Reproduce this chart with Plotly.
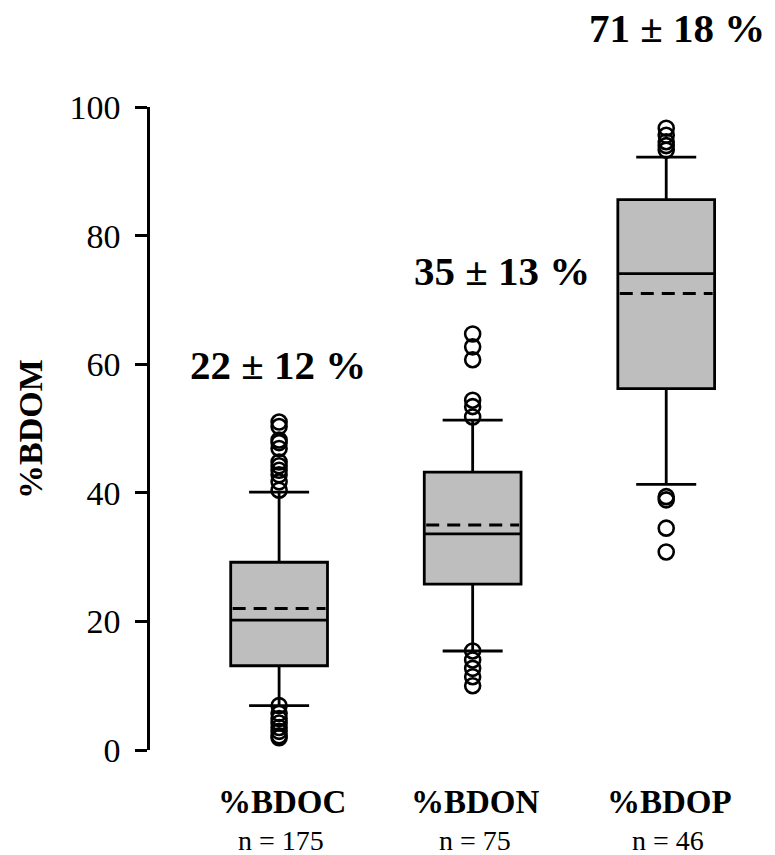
import plotly.graph_objects as go

# Box statistics for the three bioavailable fractions
categories = ["%BDOC", "%BDON", "%BDOP"]
n_obs = [175, 75, 46]
q1 = [13.1, 25.8, 56.2]
medians = [20.2, 33.6, 74.1]
q3 = [29.2, 43.2, 85.6]
lower_whisker = [6.9, 15.4, 41.3]
upper_whisker = [40.1, 51.3, 92.2]
means = [22, 35, 71]
sds = [12, 13, 18]

# Outlying observations beyond the whiskers
outliers_bdoc = [40.4, 41.7, 42.8, 43.5, 44.2, 44.8, 46.9, 47.8, 48.2, 50.3, 51.0,
                 6.9, 5.7, 4.9, 4.2, 3.5, 2.9, 2.2, 1.9]
outliers_bdon = [51.8, 53.4, 54.4, 60.7, 62.7, 64.7, 15.4, 14.0, 12.7, 11.4, 10.0]
outliers_bdop = [93.3, 94.0, 94.6, 95.6, 96.7, 39.4, 38.9, 34.5, 30.8]
outliers = [outliers_bdoc, outliers_bdon, outliers_bdop]

y_ticks = [0, 20, 40, 60, 80, 100]

positions = [1, 2, 3]
BOX_WIDTH = 0.5
FONT = "Liberation Serif"

fig = go.Figure()

fig.add_trace(go.Box(
    x=positions,
    q1=q1, median=medians, q3=q3,
    lowerfence=lower_whisker, upperfence=upper_whisker,
    boxpoints=False,
    width=BOX_WIDTH,
    whiskerwidth=0.62,
    fillcolor="#BEBEBE",
    line=dict(color="black", width=2.8),
    showlegend=False,
    hoverinfo="skip",
))

# dashed mean line across each box
for pos, m in zip(positions, means):
    fig.add_trace(go.Scatter(
        x=[pos - BOX_WIDTH / 2 + 0.01, pos + BOX_WIDTH / 2 - 0.01], y=[m, m],
        mode="lines",
        line=dict(color="black", width=3, dash="13px,8px"),
        showlegend=False, hoverinfo="skip",
    ))

for pos, pts in zip(positions, outliers):
    fig.add_trace(go.Scatter(
        x=[pos] * len(pts), y=pts,
        mode="markers",
        marker=dict(symbol="circle-open", size=15, color="black",
                    line=dict(width=2.6, color="black")),
        cliponaxis=False,
        showlegend=False,
        hoverinfo="skip",
    ))

# mean ± sd labels above each box (paper y, relative to the 0–100 axis)
label_pos = [(0.995, 0.599), (2.152, 0.745), (3.055, 1.123)]
for (lx, ly), m, s in zip(label_pos, means, sds):
    fig.add_annotation(x=lx, y=ly, xref="x", yref="paper",
                       text=f"<b>{m} ± {s} %</b>", showarrow=False,
                       font=dict(family=FONT, size=41, color="black"),
                       xanchor="center", yanchor="middle")

# category names and sample sizes under the boxes
for pos, cat, n in zip(positions, categories, n_obs):
    fig.add_annotation(x=pos + 0.015, y=-0.081, xref="x", yref="paper",
                       text=f"<b>{cat}</b>", showarrow=False,
                       font=dict(family=FONT, size=33, color="black"),
                       xanchor="center", yanchor="middle")
    fig.add_annotation(x=pos + 0.01, y=-0.140, xref="x", yref="paper",
                       text=f"n = {n}", showarrow=False,
                       font=dict(family=FONT, size=28, color="black"),
                       xanchor="center", yanchor="middle")

fig.add_annotation(x=-0.196, y=0.499, xref="paper", yref="paper",
                   text="<b>%BDOM</b>", showarrow=False, textangle=-90,
                   font=dict(family=FONT, size=34, color="black"),
                   xanchor="center", yanchor="middle")

fig.update_layout(
    width=775, height=855,
    margin=dict(l=150, r=12, t=107, b=105),
    paper_bgcolor="white", plot_bgcolor="white",
    font=dict(family=FONT, color="black"),
    xaxis=dict(range=[0.333, 3.5], showline=False, showgrid=False,
               zeroline=False, showticklabels=False, ticks=""),
    yaxis=dict(range=[0, 100], tickvals=y_ticks, ticktext=[str(t) for t in y_ticks],
               showline=True, linecolor="black", linewidth=2.5,
               ticks="outside", ticklen=12, tickwidth=2.5, tickcolor="black",
               ticklabelstandoff=8,
               tickfont=dict(family=FONT, size=34, color="black"),
               showgrid=False, zeroline=False),
)

fig.write_html("out.html")
